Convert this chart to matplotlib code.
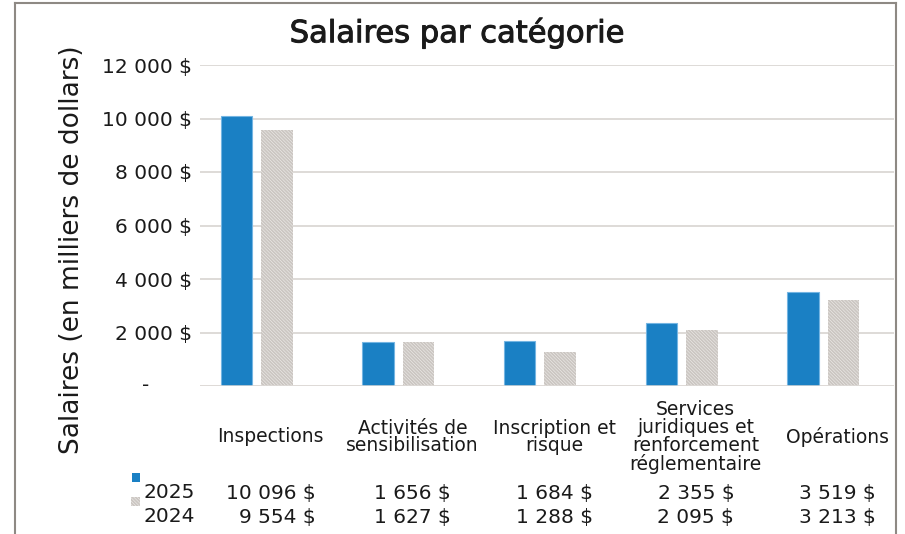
"""
Salaires par catégorie -- grouped bars with an Excel-style data table below.
"""

import matplotlib
matplotlib.use("Agg")
import matplotlib.pyplot as plt
import matplotlib.ticker as mticker
import matplotlib.transforms as mtransforms
import matplotlib.patheffects as pe
from matplotlib.lines import Line2D
from matplotlib.patches import Rectangle
import numpy as np

# ---------------------------------------------------------------------------
# Data
# ---------------------------------------------------------------------------
categories = [
    "Inspections",
    "Activités de\nsensibilisation",
    "Inscription et\nrisque",
    "Services\njuridiques et\nrenforcement\nréglementaire",
    "Opérations",
]
years = ["2025", "2024"]
salaires_2025 = [10096, 1656, 1684, 2355, 3519]
salaires_2024 = [9554, 1627, 1288, 2095, 3213]
y_ticks = [0, 2000, 4000, 6000, 8000, 10000, 12000]

TITLE = "Salaires par catégorie"
Y_LABEL = "Salaires (en milliers de dollars)"

# ---------------------------------------------------------------------------
# Style
# ---------------------------------------------------------------------------
W, H = 905, 534
BLUE = "#1a80c4"
BLUE_EDGE = "#74b5e2"
GREY = "#cbc6c2"
GRID = "#dedad7"
FRAME = "#8e8984"
TEXT = "#1a1a1a"

plt.rcParams["font.family"] = ["DejaVu Sans"]
plt.rcParams["hatch.linewidth"] = 0.35


def px(x, y):
    """pixel (from top-left) -> figure fraction"""
    return x / W, 1 - y / H


def money(v):
    return f"{v:,.0f} $".replace(",", " ")


fig = plt.figure(figsize=(W / 100, H / 100), dpi=100)
fig.patch.set_facecolor("white")

# plot area: x 200..894 px, y 65..386 px
ax = fig.add_axes([200 / W, (H - 386) / H, 694 / W, 321 / H])
band = 141.65  # px per category
ax.set_xlim(-0.5, -0.5 + 694 / band)
ax.set_ylim(0, 12000)

x = np.arange(len(categories))
bar_w = 0.222
ax.bar(x - 0.243, salaires_2025, bar_w, color=BLUE, edgecolor=BLUE_EDGE,
       linewidth=0.8, zorder=3)
ax.bar(x + 0.043, salaires_2024, bar_w, color=GREY, edgecolor="#f4f2f0",
       linewidth=0, hatch="\\" * 10, zorder=3)

# grid + axes
for s in ax.spines.values():
    s.set_visible(False)
ax.set_yticks(y_ticks)
ax.yaxis.set_major_formatter(
    mticker.FuncFormatter(lambda v, p: "" if v == 0 else money(v)))
ax.tick_params(axis="y", length=0, pad=6, labelsize=14.5, labelcolor=TEXT)
ax.set_xticks([])
ax.grid(axis="y", color=GRID, linewidth=1.4, zorder=0)
ax.axhline(0, color=GRID, linewidth=1.8, zorder=4)

# "-" for zero, accounting-style
ax.text(-(200 - 146) / 694, 0, "-", transform=ax.transAxes, fontsize=14.5,
        ha="center", va="center", color=TEXT)

# titles
title = fig.text(*px(457, 33), TITLE, ha="center", va="center", fontsize=22,
                 color=TEXT)
title.set_path_effects([pe.withStroke(linewidth=0.7, foreground=TEXT)])
fig.text(*px(72, 250), Y_LABEL, ha="center", va="center", rotation=90,
         fontsize=19, color=TEXT)

# ---------------------------------------------------------------------------
# Data table
# ---------------------------------------------------------------------------
tr = mtransforms.blended_transform_factory(ax.transData, ax.transAxes)


def ax_y(ypx):
    return (386 - ypx) / 321


for i, cat in enumerate(categories):
    ax.text(i, ax_y(437), cat, transform=tr, ha="center", va="center",
            fontsize=13.5, color=TEXT, linespacing=0.92)

# values: right-aligned between rows, centred in the column
renderer = fig.canvas.get_renderer()
rows = [(salaires_2025, 493), (salaires_2024, 517)]
for i in range(len(categories)):
    txts = [ax.text(i, ax_y(ypx), money(vals[i]), transform=tr, ha="right",
                    va="center", fontsize=14.5, color=TEXT)
            for vals, ypx in rows]
    wmax = max(t.get_window_extent(renderer).width for t in txts)
    for t in txts:
        t.set_x(i + (wmax / 2) / band)

for yr, ypx in zip(years, [493, 517]):
    fig.text(*px(143, ypx), yr, ha="left", va="center", fontsize=14.5,
             color=TEXT)

# legend keys
x0, y0 = px(132, 482)
fig.add_artist(Rectangle((x0, y0), 8 / W, 9 / H, transform=fig.transFigure,
                         facecolor=BLUE, edgecolor="none"))
x0, y0 = px(131, 506)
fig.add_artist(Rectangle((x0, y0), 9 / W, 9 / H, transform=fig.transFigure,
                         facecolor=GREY, edgecolor="#f4f2f0", linewidth=0,
                         hatch="\\" * 10))

# outer frame (bottom cut off)
for xs, ys in [([15, 15], [534, 3]), ([15, 896], [3, 3]), ([896, 896], [3, 534])]:
    fx = [v / W for v in xs]
    fy = [1 - v / H for v in ys]
    fig.add_artist(Line2D(fx, fy, transform=fig.transFigure, color=FRAME,
                          linewidth=1.5))

fig.savefig("out.png", dpi=100)
plt.close(fig)
